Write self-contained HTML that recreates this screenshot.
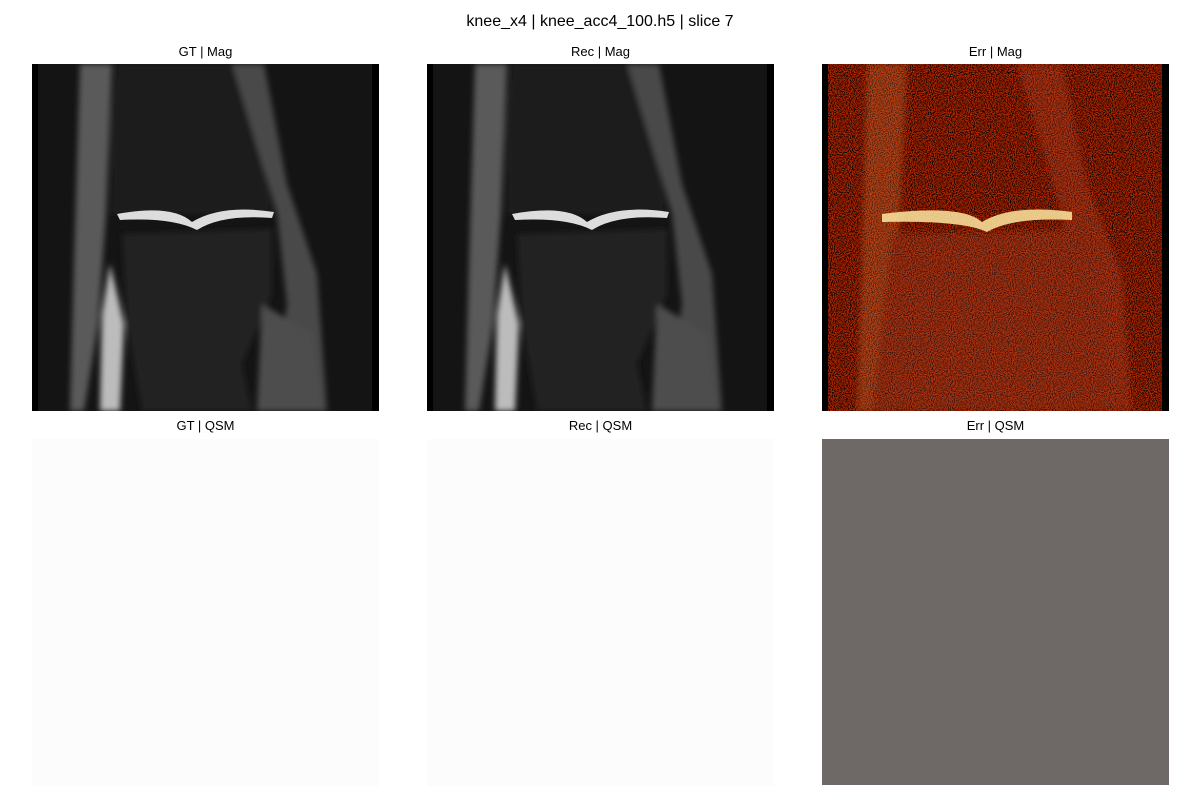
<!DOCTYPE html>
<html><head><meta charset="utf-8"><style>
body{margin:0;background:#fff;width:1200px;height:800px;overflow:hidden;font-family:"Liberation Sans","DejaVu Sans",sans-serif;}
.t{position:absolute;font-size:13px;color:#000;text-align:center;width:347px;}
.p{position:absolute;width:347px;height:347px;}
</style></head><body>
<div style="position:absolute;top:13px;left:0;width:1200px;text-align:center;font-size:16px;">knee_x4 | knee_acc4_100.h5 | slice 7</div>

<div class="t" style="left:32px;top:44px">GT | Mag</div>
<div class="t" style="left:427px;top:44px">Rec | Mag</div>
<div class="t" style="left:822px;top:44px">Err | Mag</div>
<div class="t" style="left:32px;top:418px">GT | QSM</div>
<div class="t" style="left:427px;top:418px">Rec | QSM</div>
<div class="t" style="left:822px;top:418px">Err | QSM</div>

<svg width="0" height="0" style="position:absolute">
<defs>
<filter id="blur"><feGaussianBlur stdDeviation="3"/></filter>
<filter id="noise" x="0" y="0" width="100%" height="100%">
<feTurbulence type="fractalNoise" baseFrequency="0.95" numOctaves="1" seed="3" result="n"/>
<feColorMatrix in="n" type="matrix" values="1.5 0 0 0 -0.55  0.08 0 0 0 -0.03  0 0 0 0 0  0 0 0 0 1"/>
</filter>
<g id="knee">
<rect x="0" y="0" width="347" height="347" fill="#141414"/>
<g filter="url(#blur)">
<path d="M48 0 L80 0 L74 150 L66 260 L52 347 L38 347 L42 200 Z" fill="#5a5a5a"/>
<path d="M200 0 L232 0 L255 120 L285 210 L295 347 L240 347 L255 240 L245 150 Z" fill="#4a4a4a"/>
<path d="M85 0 L200 0 L230 100 L240 150 L80 150 L80 60 Z" fill="#1e1e1e"/>
<path d="M90 170 L240 165 L240 230 L210 300 L220 347 L110 347 L95 260 Z" fill="#222"/>
<path d="M78 200 L92 260 L88 347 L68 347 L70 250 Z" fill="#bcbcbc"/>
<path d="M230 240 L280 270 L290 347 L225 347 Z" fill="#4e4e4e"/>
</g>
<path d="M85 150 Q140 140 160 158 Q190 140 242 148 L240 154 Q190 150 165 166 Q140 153 88 156 Z" fill="#ddd"/>
<rect x="0" y="0" width="6" height="347" fill="#000"/>
<rect x="340" y="0" width="7" height="347" fill="#000"/>
</g>
</defs>
</svg>

<svg class="p" style="left:32px;top:64px" viewBox="0 0 347 347"><use href="#knee"/></svg>
<svg class="p" style="left:427px;top:64px" viewBox="0 0 347 347"><use href="#knee"/></svg>
<svg class="p" style="left:822px;top:64px" viewBox="0 0 347 347">
<rect width="347" height="347" fill="#000"/>
<rect width="347" height="347" filter="url(#noise)"/>
<g filter="url(#blur)" opacity="0.28">
<path d="M45 0 L85 0 L78 150 L70 260 L55 347 L35 347 L40 200 Z" fill="#e08040"/>
<path d="M195 0 L240 0 L265 120 L300 210 L310 347 L230 347 L250 240 L240 150 Z" fill="#c05030"/>
<path d="M70 170 L270 165 L290 347 L50 347 Z" fill="#b05030"/>
</g>
<path d="M60 150 Q140 140 160 158 Q190 140 250 148 L250 156 Q190 153 165 168 Q140 156 60 158 Z" fill="#ffe8a0" opacity="0.85"/>
<rect x="0" y="0" width="6" height="347" fill="#000"/>
<rect x="340" y="0" width="7" height="347" fill="#000"/>
</svg>

<div class="p" style="left:32px;top:439px;background:#fdfcfd"></div>
<div class="p" style="left:427px;top:439px;background:#fdfcfd"></div>
<div class="p" style="left:822px;top:439px;height:346px;background:#6e6867"></div>
</body></html>
